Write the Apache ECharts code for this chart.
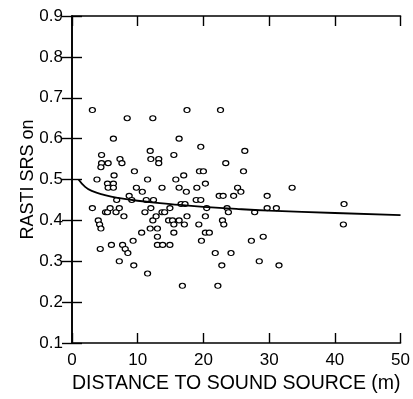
<!DOCTYPE html>
<html>
<head>
<meta charset="utf-8">
<script src="https://cdn.jsdelivr.net/npm/echarts@6/dist/echarts.min.js"></script>
<style>
html,body{margin:0;padding:0;background:#fff;}
#chart{width:413px;height:399px;}
</style>
</head>
<body>
<div id="chart"></div>
<script>
// Measured points: distance (m)
var pointX = [3.1,8.4,12.3,17.5,22.6,6.3,16.3,19.6,4.5,4.5,4.4,5.5,7.3,7.6,11.9,12.0,13.2,13.2,15.5,9.5,3.8,6.4,5.4,5.5,6.3,6.3,11.5,15.8,17.0,19.4,20.0,23.4,26.3,26.1,20.3,9.8,10.7,13.7,16.3,17.4,19.0,8.7,22.4,23.0,24.6,25.2,25.7,33.5,29.7,41.4,41.3,23.6,23.8,27.8,29.7,31.1,20.5,20.3,22.9,23.1,20.3,20.9,19.7,27.3,29.1,21.8,24.2,28.5,22.8,31.5,22.2,3.1,5.1,5.4,5.8,6.7,7.2,6.8,7.9,9.1,4.0,4.2,4.4,4.3,6.0,7.2,7.7,8.1,8.5,9.3,9.4,11.3,12.4,11.1,12.0,12.3,12.8,10.6,11.9,13.0,13.0,13.0,13.8,11.5,13.7,14.1,14.9,14.7,15.3,15.5,15.5,14.9,16.3,17.1,17.5,16.6,17.2,16.8,18.9,19.6,19.3];
// Measured points: RASTI SRS on
var pointY = [0.67,0.65,0.65,0.67,0.67,0.60,0.60,0.58,0.56,0.54,0.53,0.54,0.55,0.54,0.57,0.55,0.55,0.54,0.56,0.52,0.50,0.51,0.49,0.48,0.49,0.48,0.50,0.50,0.51,0.52,0.52,0.54,0.57,0.52,0.49,0.48,0.47,0.48,0.48,0.47,0.48,0.46,0.46,0.46,0.46,0.48,0.47,0.48,0.46,0.44,0.39,0.43,0.42,0.42,0.43,0.43,0.43,0.41,0.40,0.39,0.37,0.37,0.35,0.35,0.36,0.32,0.32,0.30,0.29,0.29,0.24,0.43,0.42,0.42,0.43,0.42,0.43,0.45,0.41,0.45,0.40,0.39,0.38,0.33,0.34,0.30,0.34,0.33,0.32,0.35,0.29,0.45,0.45,0.42,0.43,0.40,0.41,0.37,0.38,0.36,0.38,0.34,0.34,0.27,0.42,0.42,0.43,0.40,0.40,0.39,0.37,0.34,0.40,0.39,0.41,0.44,0.44,0.24,0.45,0.45,0.39];
// Fitted curve
var curveX = [1,2,3,5,7,10,15,20,25,30,40,50];
var curveY = [0.500,0.482,0.472,0.462,0.455,0.448,0.440,0.433,0.428,0.424,0.418,0.413];
var xTicks = [0,10,20,30,40,50];
var yTicks = [0.1,0.2,0.3,0.4,0.5,0.6,0.7,0.8,0.9];

var FONT = 'Liberation Sans';
var scatterData = pointX.map(function(x,i){return [x,pointY[i]];});
var curveData = curveX.map(function(x,i){return [x,curveY[i]];});

var axisLineStyle = {show:true, lineStyle:{color:'#000', width:1.6}};
var tickStyle = {show:true, inside:true, length:10, lineStyle:{color:'#000', width:1.4}};

var chart = echarts.init(document.getElementById('chart'));
chart.setOption({
  backgroundColor:'#fff',
  animation:false,
  grid:{left:72, right:12, top:16, bottom:54, containLabel:false},
  xAxis:[{
    type:'value', min:xTicks[0], max:xTicks[xTicks.length-1], interval:10,
    position:'bottom',
    axisLine:axisLineStyle, axisTick:tickStyle, splitLine:{show:false},
    axisLabel:{color:'#000', fontFamily:FONT, fontSize:17, margin:9},
    name:'DISTANCE TO SOUND SOURCE (m)', nameLocation:'middle', nameGap:31,
    nameMoveOverlap:false,
    nameTextStyle:{color:'#000', fontFamily:FONT, fontSize:19.5}
  },{
    type:'value', min:xTicks[0], max:xTicks[xTicks.length-1], interval:10,
    position:'top',
    axisLine:axisLineStyle, axisTick:tickStyle, splitLine:{show:false},
    axisLabel:{show:false}
  }],
  yAxis:[{
    type:'value', min:yTicks[0], max:yTicks[yTicks.length-1], interval:0.1,
    position:'left',
    axisLine:axisLineStyle, axisTick:tickStyle, splitLine:{show:false},
    axisLabel:{color:'#000', fontFamily:FONT, fontSize:17, margin:9,
      formatter:function(v){return v.toFixed(1);}},
    name:'RASTI SRS on', nameLocation:'middle', nameGap:35,
    nameMoveOverlap:false,
    nameTextStyle:{color:'#000', fontFamily:FONT, fontSize:18}
  },{
    type:'value', min:yTicks[0], max:yTicks[yTicks.length-1], interval:0.1,
    position:'right',
    axisLine:axisLineStyle, axisTick:tickStyle, splitLine:{show:false},
    axisLabel:{show:false}
  }],
  series:[{
    type:'scatter', xAxisIndex:0, yAxisIndex:0,
    data:scatterData, symbol:'circle', symbolSize:[6,5],
    itemStyle:{color:'#fff', borderColor:'#000', borderWidth:1.2, opacity:1}
  },{
    type:'line', xAxisIndex:0, yAxisIndex:0,
    data:curveData, smooth:true, showSymbol:false,
    lineStyle:{color:'#000', width:1.8}, z:3
  }]
});
</script>
</body>
</html>
